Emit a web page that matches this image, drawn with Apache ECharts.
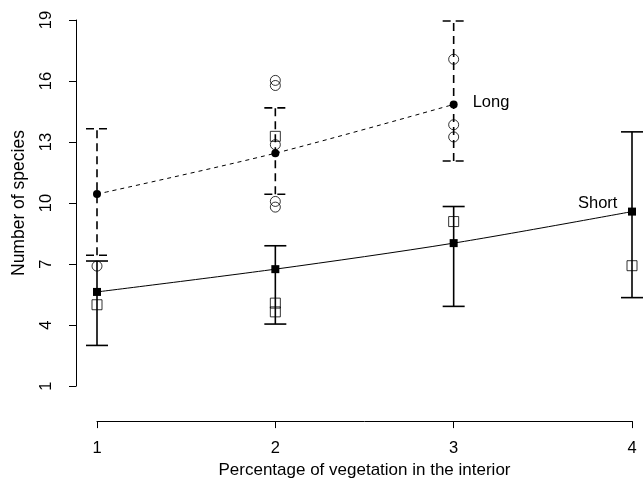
<!DOCTYPE html>
<html>
<head>
<meta charset="utf-8">
<script src="https://cdn.jsdelivr.net/npm/echarts@6/dist/echarts.min.js"></script>
<style>html,body{margin:0;padding:0;background:#fff;}#c{width:643px;height:484px;}</style>
</head>
<body>
<div id="c"></div>
<script>
// x categories (percentage of vegetation class)
var xTicks = [1, 2, 3, 4];
var yTicks = [1, 4, 7, 10, 13, 16, 19];
// fitted means
var longMean = [[1, 10.44], [2, 12.45], [3, 14.85]];
var shortMean = [[1, 5.63], [2, 6.75], [3, 8.03], [4, 9.58]];
// error bars: [x, low, high]
var longErr = [[1, 7.43, 13.65], [2, 10.43, 14.68], [3, 12.07, 18.95]];
var shortErr = [[1, 3.0, 7.15], [2, 4.05, 7.9], [3, 4.92, 9.83], [4, 5.35, 13.5]];
// observations
var longObs = [[1, 6.9], [2, 16.03], [2, 15.78], [2, 12.87], [2, 10.08], [2, 9.8], [3, 17.07], [3, 13.85], [3, 13.25]];
var shortObs = [[1, 5.0], [2, 13.28], [2, 5.08], [2, 4.65], [3, 9.09], [4, 6.92]];

var FONT = 'Liberation Sans, Arial, sans-serif';

function errRender(dash, capW) {
  return function (params, api) {
    var x = api.value(0), lo = api.value(1), hi = api.value(2);
    var pLo = api.coord([x, lo]), pHi = api.coord([x, hi]);
    var st = {stroke: '#000', lineWidth: 1.6, lineDash: dash, fill: null};
    var h = capW / 2;
    return {
      type: 'group',
      children: [
        {type: 'line', shape: {x1: pLo[0], y1: pLo[1], x2: pHi[0], y2: pHi[1]}, style: st},
        {type: 'line', shape: {x1: pHi[0] - h, y1: pHi[1], x2: pHi[0] + h, y2: pHi[1]}, style: st},
        {type: 'line', shape: {x1: pLo[0] - h, y1: pLo[1], x2: pLo[0] + h, y2: pLo[1]}, style: st}
      ]
    };
  };
}

var chart = echarts.init(document.getElementById('c'), null, {renderer: 'canvas'});
chart.setOption({
  animation: false,
  backgroundColor: '#fff',
  grid: {left: 97, right: 11, top: 20, bottom: 96},
  xAxis: {
    type: 'value', min: 1, max: 4, interval: 1, offset: 35,
    name: 'Percentage of vegetation in the interior',
    nameLocation: 'middle', nameGap: 36,
    nameTextStyle: {color: '#000', fontSize: 17, fontFamily: FONT},
    axisLine: {show: true, lineStyle: {color: '#000', width: 1}},
    axisTick: {show: true, length: 7, lineStyle: {color: '#000'}},
    axisLabel: {color: '#000', fontSize: 16.5, fontFamily: FONT, margin: 19,
      formatter: function (v) { return xTicks.indexOf(v) >= 0 ? String(v) : ''; }},
    splitLine: {show: false}
  },
  yAxis: {
    type: 'value', min: 1, max: 19, interval: 3, offset: 21,
    name: 'Number of species',
    nameLocation: 'middle', nameGap: 48, nameRotate: 90,
    nameTextStyle: {color: '#000', fontSize: 17.5, fontFamily: FONT},
    axisLine: {show: true, lineStyle: {color: '#000', width: 1}},
    axisTick: {show: true, length: 7, lineStyle: {color: '#000'}},
    axisLabel: {color: '#000', fontSize: 16.5, fontFamily: FONT, margin: 21, rotate: 90,
      formatter: function (v) { return yTicks.indexOf(v) >= 0 ? String(v) : ''; }},
    splitLine: {show: false}
  },
  series: [
    {type: 'custom', renderItem: errRender([8, 5], 22), data: longErr, clip: false, z: 2},
    {type: 'custom', renderItem: errRender(null, 22), data: shortErr, clip: false, z: 2},
    {type: 'line', data: longMean, smooth: 0.3, clip: false,
      lineStyle: {color: '#000', width: 1, type: [4, 4]},
      symbol: 'circle', symbolSize: 8, itemStyle: {color: '#000'}, z: 3,
      endLabel: {show: true, formatter: 'Long', color: '#000', fontSize: 16.5, fontFamily: FONT, distance: 19, offset: [0, -2]}},
    {type: 'line', data: shortMean, smooth: 0.3, clip: false,
      lineStyle: {color: '#000', width: 1},
      symbol: 'rect', symbolSize: 8, itemStyle: {color: '#000'}, z: 3,
      endLabel: {show: true, formatter: 'Short', color: '#000', fontSize: 16.5, fontFamily: FONT, distance: 5, offset: [-59, -8]}},
    {type: 'scatter', data: longObs, symbol: 'circle', symbolSize: 10, clip: false,
      itemStyle: {color: 'rgba(0,0,0,0)', borderColor: '#000', borderWidth: 1}, z: 4},
    {type: 'scatter', data: shortObs, symbol: 'rect', symbolSize: 10, clip: false,
      itemStyle: {color: 'rgba(0,0,0,0)', borderColor: '#000', borderWidth: 1}, z: 4}
  ]
});
</script>
</body>
</html>
